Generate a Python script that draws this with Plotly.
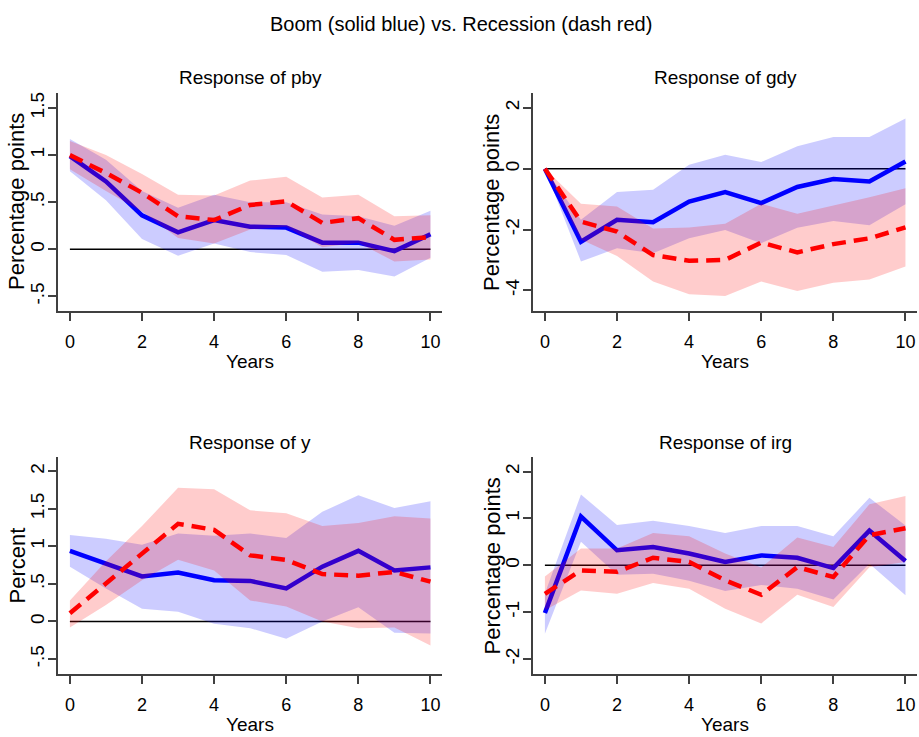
import plotly.graph_objects as go

years = [0, 1, 2, 3, 4, 5, 6, 7, 8, 9, 10]

# pby
pby_boom = [0.99, 0.72, 0.36, 0.18, 0.31, 0.24, 0.23, 0.07, 0.07, -0.02, 0.16]
pby_boom_lo = [0.83, 0.52, 0.11, -0.07, 0.06, -0.03, -0.06, -0.24, -0.22, -0.29, -0.09]
pby_boom_hi = [1.17, 0.95, 0.62, 0.44, 0.58, 0.50, 0.50, 0.37, 0.35, 0.25, 0.41]
pby_rec = [1.00, 0.81, 0.60, 0.35, 0.31, 0.47, 0.51, 0.28, 0.33, 0.10, 0.13]
pby_rec_lo = [0.85, 0.62, 0.40, 0.12, 0.06, 0.21, 0.24, 0.02, 0.07, -0.13, -0.11]
pby_rec_hi = [1.15, 1.00, 0.80, 0.58, 0.57, 0.73, 0.77, 0.55, 0.58, 0.35, 0.36]

# gdy
gdy_boom = [0.0, -2.40, -1.68, -1.76, -1.08, -0.77, -1.13, -0.60, -0.34, -0.42, 0.24]
gdy_boom_lo = [0.0, -3.05, -2.62, -2.78, -2.29, -2.02, -2.45, -1.94, -1.72, -1.86, -1.17]
gdy_boom_hi = [0.0, -1.68, -0.77, -0.69, 0.13, 0.46, 0.22, 0.74, 1.04, 1.04, 1.65]
gdy_rec = [0.0, -1.74, -2.07, -2.84, -3.03, -3.00, -2.43, -2.75, -2.48, -2.29, -1.93]
gdy_rec_lo = [0.0, -2.33, -2.87, -3.71, -4.13, -4.19, -3.71, -4.02, -3.75, -3.64, -3.22]
gdy_rec_hi = [0.0, -1.15, -1.24, -1.97, -1.93, -1.81, -1.15, -1.48, -1.21, -0.94, -0.64]

# y
y_boom = [0.94, 0.77, 0.60, 0.65, 0.55, 0.54, 0.44, 0.73, 0.94, 0.68, 0.72]
y_boom_lo = [0.73, 0.44, 0.17, 0.13, -0.03, -0.09, -0.23, 0.00, 0.19, -0.15, -0.16]
y_boom_hi = [1.15, 1.10, 1.02, 1.17, 1.14, 1.17, 1.11, 1.46, 1.68, 1.51, 1.60]
y_rec = [0.11, 0.51, 0.91, 1.30, 1.22, 0.88, 0.82, 0.63, 0.61, 0.66, 0.53]
y_rec_lo = [-0.08, 0.22, 0.55, 0.82, 0.68, 0.28, 0.20, 0.00, -0.09, -0.08, -0.32]
y_rec_hi = [0.28, 0.80, 1.27, 1.78, 1.76, 1.48, 1.44, 1.27, 1.31, 1.40, 1.37]

# irg
irg_boom = [-1.02, 1.04, 0.32, 0.39, 0.25, 0.07, 0.21, 0.16, -0.06, 0.74, 0.09]
irg_boom_lo = [-1.46, 0.50, -0.20, -0.18, -0.33, -0.55, -0.42, -0.50, -0.73, 0.03, -0.64]
irg_boom_hi = [-0.60, 1.51, 0.86, 0.95, 0.84, 0.69, 0.84, 0.84, 0.62, 1.44, 0.85]
irg_rec = [-0.61, -0.11, -0.14, 0.16, 0.07, -0.32, -0.63, -0.04, -0.25, 0.64, 0.79]
irg_rec_lo = [-0.96, -0.54, -0.61, -0.38, -0.50, -0.93, -1.24, -0.63, -0.89, -0.04, 0.07]
irg_rec_hi = [-0.24, 0.36, 0.36, 0.69, 0.62, 0.25, -0.05, 0.59, 0.39, 1.30, 1.48]

zero = [0] * len(years)

x_ticks = [0, 2, 4, 6, 8, 10]

panels = [
    dict(title="Response of pby", ytitle="Percentage points",
         boom=pby_boom, blo=pby_boom_lo, bhi=pby_boom_hi,
         rec=pby_rec, rlo=pby_rec_lo, rhi=pby_rec_hi,
         yrange=[-0.656, 1.66], yticks=[-0.5, 0, 0.5, 1, 1.5],
         ylabels=["-.5", "0", ".5", "1", "1.5"]),
    dict(title="Response of gdy", ytitle="Percentage points",
         boom=gdy_boom, blo=gdy_boom_lo, bhi=gdy_boom_hi,
         rec=gdy_rec, rlo=gdy_rec_lo, rhi=gdy_rec_hi,
         yrange=[-4.68, 2.49], yticks=[-4, -2, 0, 2],
         ylabels=["-4", "-2", "0", "2"]),
    dict(title="Response of y", ytitle="Percent",
         boom=y_boom, blo=y_boom_lo, bhi=y_boom_hi,
         rec=y_rec, rlo=y_rec_lo, rhi=y_rec_hi,
         yrange=[-0.70, 2.19], yticks=[-0.5, 0, 0.5, 1, 1.5, 2],
         ylabels=["-.5", "0", ".5", "1", "1.5", "2"]),
    dict(title="Response of irg", ytitle="Percentage points",
         boom=irg_boom, blo=irg_boom_lo, bhi=irg_boom_hi,
         rec=irg_rec, rlo=irg_rec_lo, rhi=irg_rec_hi,
         yrange=[-2.32, 2.31], yticks=[-2, -1, 0, 1, 2],
         ylabels=["-2", "-1", "0", "1", "2"]),
]

W, H = 919, 737
# pixel boxes of plot areas: (left, right, top, bottom)
boxes = [(58, 442, 93, 311), (533, 917, 93, 311), (58, 442, 457, 674), (533, 917, 457, 674)]

REG = "Liberation Sans, Arial, sans-serif"

fig = go.Figure()
layout = dict(
    width=W, height=H,
    margin=dict(l=0, r=0, t=0, b=0),
    paper_bgcolor="white", plot_bgcolor="white",
    showlegend=False,
    annotations=[],
)

def px_x(px):
    return px / W

def px_y(py):
    return 1 - py / H

for i, (p, box) in enumerate(zip(panels, boxes)):
    n = "" if i == 0 else str(i + 1)
    xa, ya = "x" + n, "y" + n
    l, r, t, b = box
    # zero line
    fig.add_trace(go.Scatter(x=years, y=zero, mode="lines", xaxis=xa, yaxis=ya,
                             line=dict(color="black", width=1.6), hoverinfo="skip"))
    # boom band
    fig.add_trace(go.Scatter(x=years + years[::-1], y=p["bhi"] + p["blo"][::-1],
                             mode="lines", fill="toself", xaxis=xa, yaxis=ya,
                             fillcolor="rgba(0,0,255,0.2)", line=dict(width=0),
                             hoverinfo="skip"))
    # boom line
    fig.add_trace(go.Scatter(x=years, y=p["boom"], mode="lines", xaxis=xa, yaxis=ya,
                             line=dict(color="#0000ff", width=4.5)))
    # recession band
    fig.add_trace(go.Scatter(x=years + years[::-1], y=p["rhi"] + p["rlo"][::-1],
                             mode="lines", fill="toself", xaxis=xa, yaxis=ya,
                             fillcolor="rgba(255,0,0,0.2)", line=dict(width=0),
                             hoverinfo="skip"))
    # recession line
    fig.add_trace(go.Scatter(x=years, y=p["rec"], mode="lines", xaxis=xa, yaxis=ya,
                             line=dict(color="#ff0000", width=4.5, dash="14px,8px")))

    layout["xaxis" + n] = dict(
        domain=[px_x(l), px_x(r)], anchor=ya, range=[-0.33, 10.32],
        tickvals=x_ticks, ticktext=[str(v) for v in x_ticks],
        ticks="outside", ticklen=8, tickwidth=1.5, tickcolor="#404040",
        showline=True, linecolor="#404040", linewidth=2, mirror=False,
        showgrid=False, zeroline=False,
        tickfont=dict(family=REG, size=18, color="black"),
        ticklabelstandoff=5,
    )
    layout["yaxis" + n] = dict(
        domain=[px_y(b), px_y(t)], anchor=xa, range=p["yrange"],
        tickvals=p["yticks"], ticktext=p["ylabels"], tickangle=-90,
        ticks="outside", ticklen=8, tickwidth=1.5, tickcolor="#404040",
        showline=True, linecolor="#404040", linewidth=2, mirror=False,
        showgrid=False, zeroline=False,
        tickfont=dict(family=REG, size=19, color="black"),
        ticklabelstandoff=-4,
    )
    # subplot title
    layout["annotations"].append(dict(
        text=p["title"], x=px_x((l + r) / 2), y=px_y(t - 15), xref="paper", yref="paper",
        xanchor="center", yanchor="middle", showarrow=False,
        font=dict(family=REG, size=19, color="black")))
    # x title
    layout["annotations"].append(dict(
        text="Years", x=px_x((l + r) / 2), y=px_y(b + 50), xref="paper", yref="paper",
        xanchor="center", yanchor="middle", showarrow=False,
        font=dict(family=REG, size=19, color="black")))
    # y title
    layout["annotations"].append(dict(
        text=p["ytitle"], x=px_x(l - 41), y=px_y((t + b) / 2), xref="paper", yref="paper",
        xanchor="center", yanchor="middle", showarrow=False, textangle=-90,
        font=dict(family=REG, size=22, color="black")))

layout["annotations"].append(dict(
    text="Boom (solid blue) vs. Recession (dash red)", x=px_x(461), y=px_y(24),
    xref="paper", yref="paper", xanchor="center", yanchor="middle", showarrow=False,
    font=dict(family=REG, size=20, color="black")))

fig.update_layout(**layout)
fig.write_html("out.html")
